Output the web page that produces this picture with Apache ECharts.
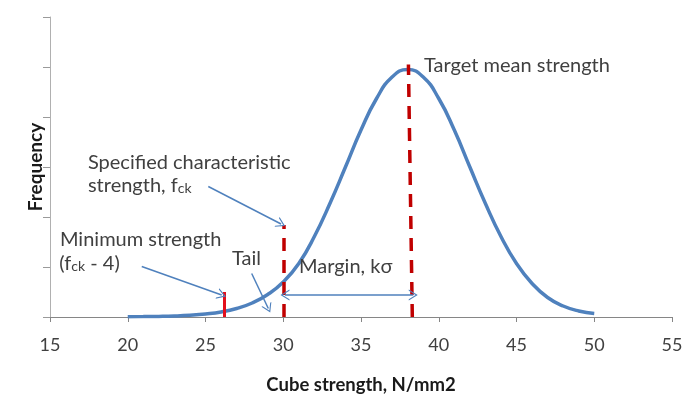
<!DOCTYPE html>
<html>
<head>
<meta charset="utf-8">
<script src="https://cdn.jsdelivr.net/npm/echarts@6/dist/echarts.min.js"></script>
<style>
html,body{margin:0;padding:0;background:#fff;}
#chart{width:700px;height:413px;}
</style>
</head>
<body>
<div id="chart"></div>
<script>
// ---- data ----
var strengthValues = [20,21,22,23,24,25,26,27,28,29,30,31,32,33,34,35,36,37,38,39,40,41,42,43,44,45,46,47,48,49,50];
var frequencyValues = [0.005,0.008,0.012,0.02,0.035,0.06,0.1,0.17,0.28,0.45,0.70,1.07,1.61,2.27,3.00,3.74,4.37,4.80,4.95,4.80,4.37,3.74,3.00,2.27,1.61,1.07,0.67,0.39,0.22,0.12,0.07];
var xTicks = {min:15, max:55, step:5};
var yTicks = {min:0, max:6, step:1};
var xAxisTitle = 'Cube strength, N/mm2';
var yAxisTitle = 'Frequency';

// key strengths (N/mm2)
var minimumStrength = 26.2;
var characteristicStrength = 30.05;
var targetMeanTop = 38.05, targetMeanBottom = 38.3;
var targetMeanHeight = 5.05;
var characteristicHeight = 1.84;
var minimumHeight = 0.5;
var marginLevel = 0.44;

// annotation texts and their anchors (data coords)
var annotationTexts = [
  {text:'Target mean strength', x:39.05, y:5.03},
  {text:'Specified characteristic', x:17.44, y:3.09},
  {text:'strength, f{s|ck}', x:17.44, y:2.63},
  {text:'Minimum strength', x:15.64, y:1.55},
  {text:'(f{s|ck} - 4)', x:15.6, y:1.07},
  {text:'Tail', x:26.7, y:1.17},
  {text:'Margin, k\u03c3', x:31.01, y:1.0}
];
var pointerArrows = [
  {from:[25.18,2.61], to:[29.86,1.86]},
  {from:[20.9,1.01], to:[26.04,0.44]},
  {from:[27.97,0.87], to:[29.04,0.17]}
];

var chevron = 'path://M5,0 L10,10 L8.8,10 L5,2.4 L1.2,10 L0,10 Z';
var blue = '#4f81bd';
var textColor = '#404040';
var fontFam = 'Lato, "Open Sans", sans-serif';

var seriesData = strengthValues.map(function(x,i){return [x, frequencyValues[i]];});

var markLines = [];
markLines.push([{coord:[targetMeanBottom,0], symbol:'none'},{coord:[targetMeanTop,targetMeanHeight], symbol:'none',
  lineStyle:{color:'#c00000', width:3.5, type:[13,9]}}]);
markLines.push([{coord:[characteristicStrength,0], symbol:'none'},{coord:[characteristicStrength,characteristicHeight], symbol:'none',
  lineStyle:{color:'#c00000', width:3.5, type:[13,9]}}]);
markLines.push([{coord:[minimumStrength,0], symbol:'none'},{coord:[minimumStrength,minimumHeight], symbol:'none',
  lineStyle:{color:'#e3101c', width:3, type:'solid'}}]);
pointerArrows.forEach(function(a){
  markLines.push([{coord:a.from, symbol:'none'},{coord:a.to, symbol:chevron, symbolSize:[11,9],
    lineStyle:{color:blue, width:1.5, type:'solid'}}]);
});
markLines.push([{coord:[characteristicStrength+0.06,marginLevel], symbol:chevron, symbolSize:[11,9]},
  {coord:[targetMeanBottom+0.06,marginLevel], symbol:chevron, symbolSize:[11,9],
  lineStyle:{color:blue, width:1.5, type:'solid'}}]);

var markPoints = annotationTexts.map(function(t){
  return {coord:[t.x,t.y], symbol:'circle', symbolSize:0,
    label:{show:true, formatter:t.text, position:[0,0], align:'left', verticalAlign:'middle',
      color:textColor, fontSize:20, fontFamily:fontFam,
      rich:{s:{fontSize:14, color:textColor, fontFamily:fontFam, verticalAlign:'bottom', padding:[4,0,0,0]}}}};
});

var chart = echarts.init(document.getElementById('chart'), null, {renderer:'canvas'});
chart.setOption({
  animation:false,
  backgroundColor:'#ffffff',
  grid:{left:50, right:28, top:17, bottom:96, containLabel:false, outerBoundsMode:'none'},
  xAxis:{type:'value', min:xTicks.min, max:xTicks.max, interval:xTicks.step,
    name:xAxisTitle, nameLocation:'middle', nameGap:59,
    nameTextStyle:{fontSize:18.5, fontWeight:'bold', color:'#1a1a1a', fontFamily:fontFam},
    axisLine:{show:true, lineStyle:{color:'#868686', width:1}},
    axisTick:{show:true, length:5, lineStyle:{color:'#868686'}},
    axisLabel:{fontSize:18, color:textColor, margin:19, fontFamily:fontFam},
    splitLine:{show:false}},
  yAxis:{type:'value', min:yTicks.min, max:yTicks.max, interval:yTicks.step,
    name:yAxisTitle, nameLocation:'middle', nameGap:5,
    nameTextStyle:{fontSize:19, fontWeight:'bold', color:'#1a1a1a', fontFamily:fontFam},
    axisLine:{show:true, lineStyle:{color:'#b0b0b0', width:1}},
    axisTick:{show:true, length:7, lineStyle:{color:'#9a9a9a'}},
    axisLabel:{show:false},
    splitLine:{show:false}},
  series:[{
    type:'line', data:seriesData, smooth:true, showSymbol:false,
    lineStyle:{color:blue, width:3.5}, itemStyle:{color:blue},
    markLine:{silent:true, symbol:'none', label:{show:false}, data:markLines, z:5},
    markPoint:{silent:true, data:markPoints}
  }]
});
</script>
</body>
</html>
